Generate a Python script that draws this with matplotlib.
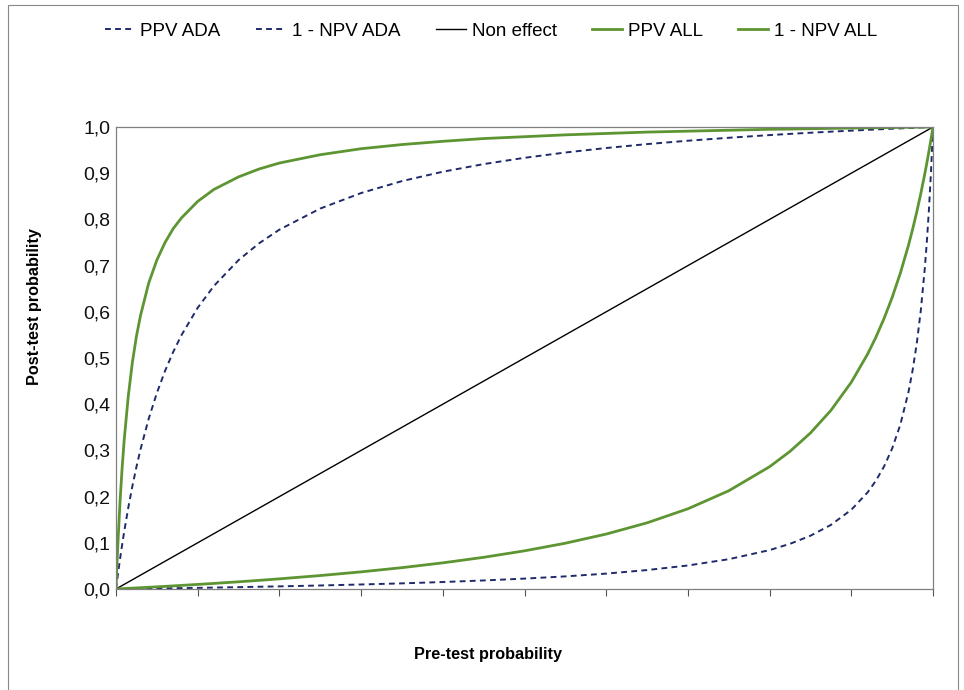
import matplotlib
matplotlib.use("Agg")
import matplotlib.pyplot as plt
from matplotlib.patches import Rectangle
from matplotlib.ticker import MultipleLocator, FuncFormatter

plt.rcParams['font.family'] = ['Liberation Sans', 'DejaVu Sans']

pretest = [0, 0.001, 0.0025, 0.005, 0.0075, 0.01, 0.015, 0.02, 0.025, 0.03, 0.04, 0.05,
           0.06, 0.07, 0.08, 0.1, 0.12, 0.15, 0.175, 0.2, 0.25, 0.3, 0.35, 0.4, 0.45, 0.5,
           0.55, 0.6, 0.65, 0.7, 0.75, 0.8, 0.825, 0.85, 0.875, 0.9, 0.92, 0.93, 0.94,
           0.95, 0.96, 0.97, 0.975, 0.98, 0.985, 0.99, 0.9925, 0.995, 0.9975, 0.999, 1.0]
ppv_ada = [0, 0.0138, 0.0339, 0.0657, 0.0957, 0.1239, 0.1757, 0.2222, 0.2642, 0.3022,
           0.3684, 0.4242, 0.4719, 0.5131, 0.5490, 0.6087, 0.6563, 0.7119, 0.7481, 0.7778,
           0.8235, 0.8571, 0.8829, 0.9032, 0.9197, 0.9333, 0.9448, 0.9545, 0.9630, 0.9703,
           0.9767, 0.9825, 0.9851, 0.9876, 0.9899, 0.9921, 0.9938, 0.9947, 0.9955, 0.9963,
           0.9970, 0.9978, 0.9982, 0.9985, 0.9989, 0.9993, 0.9995, 0.9996, 0.9998, 0.9999, 1.0]
npv_ada = [0, 0.00002, 0.0001, 0.0001, 0.0002, 0.0002, 0.0004, 0.0005, 0.0006, 0.0007,
           0.0010, 0.0012, 0.0015, 0.0017, 0.0020, 0.0025, 0.0031, 0.0040, 0.0049, 0.0057,
           0.0076, 0.0098, 0.0122, 0.0151, 0.0185, 0.0225, 0.0273, 0.0333, 0.0410, 0.0509,
           0.0645, 0.0842, 0.0978, 0.1153, 0.1387, 0.1715, 0.2092, 0.2341, 0.2649, 0.3041,
           0.3557, 0.4265, 0.4729, 0.5299, 0.6016, 0.6948, 0.7527, 0.8207, 0.9017, 0.9583, 1.0]
ppv_all = [0, 0.0449, 0.1054, 0.191, 0.262, 0.322, 0.417, 0.490, 0.547, 0.592, 0.662,
           0.712, 0.750, 0.780, 0.803, 0.839, 0.865, 0.892, 0.909, 0.922, 0.940, 0.953,
           0.962, 0.969, 0.975, 0.979, 0.983, 0.986, 0.989, 0.991, 0.993, 0.995, 0.9955,
           0.9963, 0.997, 0.9976, 0.9982, 0.9984, 0.9987, 0.9989, 0.9991, 0.9994, 0.9995,
           0.9996, 0.9997, 0.9998, 0.9998, 0.9999, 0.9999, 1.0, 1.0]
npv_all = [0, 0.0001, 0.0002, 0.0005, 0.0007, 0.0009, 0.0014, 0.0018, 0.0023, 0.0028,
           0.0037, 0.0047, 0.0057, 0.0067, 0.0078, 0.0099, 0.0121, 0.0156, 0.0187, 0.0220,
           0.0291, 0.0371, 0.0462, 0.0566, 0.0686, 0.0826, 0.0991, 0.1189, 0.1432, 0.1736,
           0.2126, 0.2647, 0.2979, 0.3377, 0.3865, 0.4475, 0.5086, 0.5446, 0.5851, 0.6310,
           0.6835, 0.7442, 0.7783, 0.8152, 0.8553, 0.8991, 0.9225, 0.9471, 0.9729, 0.9890, 1.0]
non_effect = [0, 1]

navy = '#1F2A6B'
green = '#5E9533'

fig = plt.figure(figsize=(9.64, 6.9), dpi=100)
fig.patches.append(Rectangle((8/964, -0.01), 950/964, 1 - 5/690 + 0.01,
                             transform=fig.transFigure, fill=False,
                             edgecolor='#888888', linewidth=0.8))
ax = fig.add_axes([116/964, 1 - 589/690, (933-116)/964, (589-127)/690])

ax.plot(pretest, ppv_ada, color=navy, lw=1.4, dashes=(3, 2.2), label='PPV ADA')
ax.plot(pretest, npv_ada, color=navy, lw=1.4, dashes=(3, 2.2), label='1 - NPV ADA')
ax.plot(non_effect, non_effect, color='black', lw=1.0, label='Non effect')
ax.plot(pretest, ppv_all, color=green, lw=2.0, label='PPV ALL')
ax.plot(pretest, npv_all, color=green, lw=2.0, label='1 - NPV ALL')

ax.set_xlim(0, 1)
ax.set_ylim(0, 1)
ax.xaxis.set_major_locator(MultipleLocator(0.1))
ax.yaxis.set_major_locator(MultipleLocator(0.1))
ax.xaxis.set_major_formatter(FuncFormatter(lambda v, p: ''))
ax.yaxis.set_major_formatter(FuncFormatter(lambda v, p: f'{v:.1f}'.replace('.', ',')))
ax.tick_params(axis='x', direction='out', length=5, color='#555555', width=0.8)
ax.tick_params(axis='y', length=0, pad=4, labelsize=14, labelcolor='#111111')
for s in ax.spines.values():
    s.set_color('#808080')
    s.set_linewidth(0.9)

fig.text(488/964, 1 - 654/690, 'Pre-test probability', fontsize=11.7, fontweight='bold',
         ha='center', va='center')
fig.text(35/964, 1 - 307/690, 'Post-test probability', fontsize=11.7, fontweight='bold',
         ha='center', va='center', rotation=90)

fig.legend(loc='center', bbox_to_anchor=(491/964, 1 - 31/690), ncol=5, frameon=False,
           fontsize=13.5, handlelength=1.6, handletextpad=0.3, columnspacing=1.9)

fig.savefig('out.png', dpi=100)
